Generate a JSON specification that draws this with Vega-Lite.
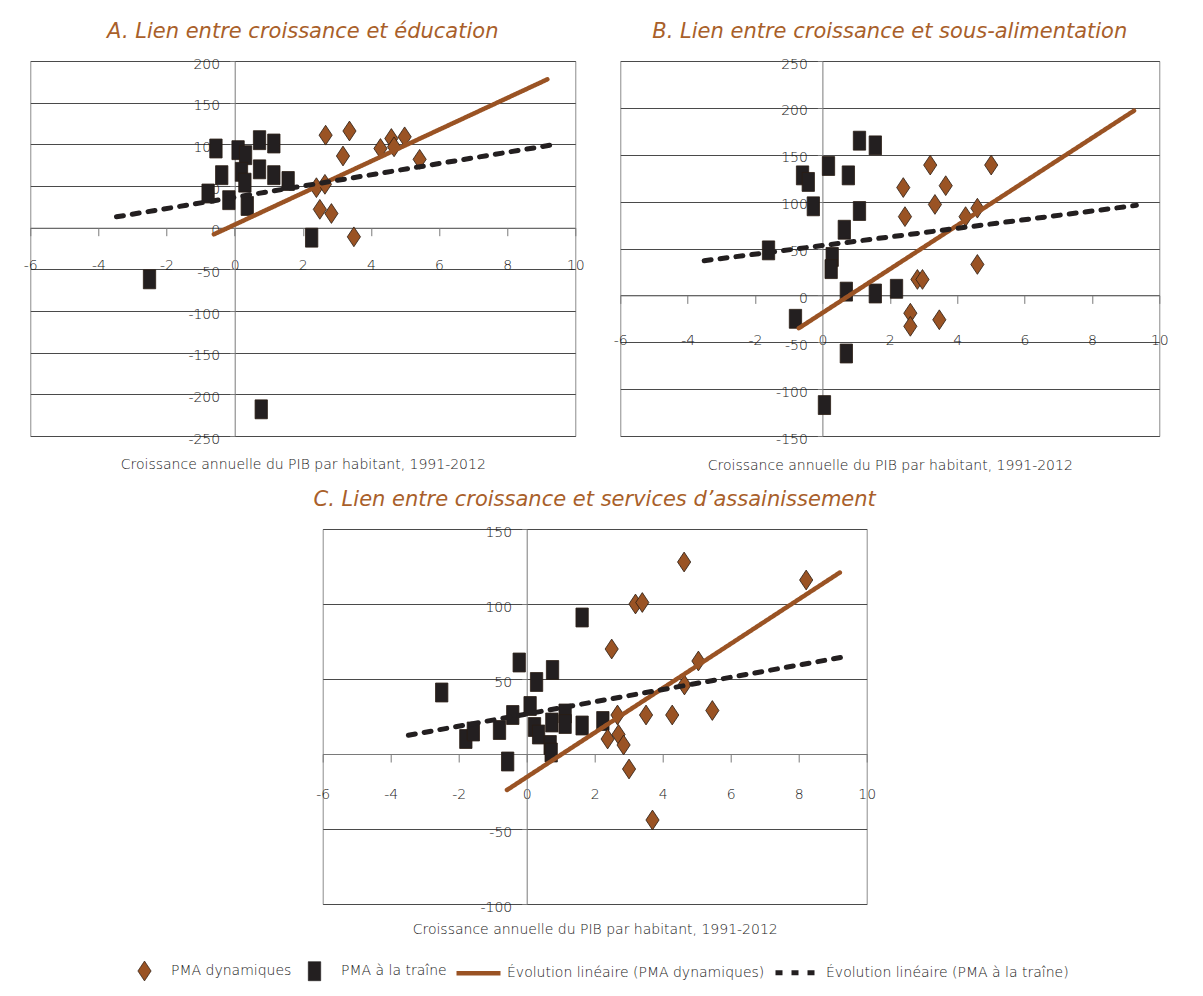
{
  "$schema": "https://vega.github.io/schema/vega-lite/v6.json",
  "background": "white",
  "padding": {"left": 22, "top": 20, "right": 5, "bottom": 5},
  "config": {
    "font": "DejaVu Sans",
    "view": {"stroke": "#8c8c8c", "strokeWidth": 1},
    "title": {"fontSize": 21, "fontStyle": "italic", "fontWeight": "normal", "color": "#a95f2a", "offset": 15, "font": "DejaVu Sans"},
    "axis": {"labelFont": "DejaVu Sans", "labelFontSize": 14, "labelFontWeight": 200, "labelColor": "#1a1a1a", "titleFont": "DejaVu Sans", "titleFontSize": 14, "titleFontWeight": 200, "titleColor": "#1a1a1a", "domainColor": "#7a7a7a", "tickColor": "#7a7a7a", "gridColor": "#4a4a4a", "gridOpacity": 1, "labelOverlap": false, "labelExpr": "datum.value + ''"},
    "legend": {"labelFont": "DejaVu Sans", "labelFontWeight": 200, "symbolOpacity": 1, "layout": {"bottom": {"anchor": "middle", "offset": 11}}}
  },
  "datasets": {
    "A": [
      {"series": "PMA à la traîne", "x": -0.55, "y": 95},
      {"series": "PMA à la traîne", "x": 0.1, "y": 93},
      {"series": "PMA à la traîne", "x": 0.32, "y": 87},
      {"series": "PMA à la traîne", "x": 0.73, "y": 105},
      {"series": "PMA à la traîne", "x": 1.15, "y": 101},
      {"series": "PMA à la traîne", "x": -0.38, "y": 63},
      {"series": "PMA à la traîne", "x": 0.2, "y": 67},
      {"series": "PMA à la traîne", "x": 0.3, "y": 54},
      {"series": "PMA à la traîne", "x": 0.73, "y": 70},
      {"series": "PMA à la traîne", "x": 1.15, "y": 63},
      {"series": "PMA à la traîne", "x": 1.57, "y": 56},
      {"series": "PMA à la traîne", "x": -0.78, "y": 41},
      {"series": "PMA à la traîne", "x": -0.17, "y": 33},
      {"series": "PMA à la traîne", "x": 0.37, "y": 26},
      {"series": "PMA à la traîne", "x": 2.26, "y": -12},
      {"series": "PMA à la traîne", "x": -2.5, "y": -62},
      {"series": "PMA à la traîne", "x": 0.78, "y": -218},
      {"series": "PMA dynamiques", "x": 2.67, "y": 111},
      {"series": "PMA dynamiques", "x": 3.37, "y": 116},
      {"series": "PMA dynamiques", "x": 3.18, "y": 86},
      {"series": "PMA dynamiques", "x": 4.28, "y": 95},
      {"series": "PMA dynamiques", "x": 4.6, "y": 107},
      {"series": "PMA dynamiques", "x": 4.68, "y": 97},
      {"series": "PMA dynamiques", "x": 4.99, "y": 109},
      {"series": "PMA dynamiques", "x": 5.43, "y": 82},
      {"series": "PMA dynamiques", "x": 2.4, "y": 48},
      {"series": "PMA dynamiques", "x": 2.65, "y": 52},
      {"series": "PMA dynamiques", "x": 2.5, "y": 22},
      {"series": "PMA dynamiques", "x": 2.84, "y": 17},
      {"series": "PMA dynamiques", "x": 3.5, "y": -11},
      {"series": "Évolution linéaire (PMA dynamiques)", "x": -0.61, "y": -8},
      {"series": "Évolution linéaire (PMA dynamiques)", "x": 9.18, "y": 178},
      {"series": "Évolution linéaire (PMA à la traîne)", "x": -3.47, "y": 13},
      {"series": "Évolution linéaire (PMA à la traîne)", "x": 9.27, "y": 99}
    ],
    "B": [
      {"series": "PMA à la traîne", "x": -1.6, "y": 48},
      {"series": "PMA à la traîne", "x": -0.59, "y": 128},
      {"series": "PMA à la traîne", "x": -0.42, "y": 121},
      {"series": "PMA à la traîne", "x": -0.27, "y": 95},
      {"series": "PMA à la traîne", "x": 0.18, "y": 138},
      {"series": "PMA à la traîne", "x": 0.77, "y": 128},
      {"series": "PMA à la traîne", "x": 1.1, "y": 165},
      {"series": "PMA à la traîne", "x": 1.57, "y": 160},
      {"series": "PMA à la traîne", "x": 1.1, "y": 90},
      {"series": "PMA à la traîne", "x": 0.65, "y": 70},
      {"series": "PMA à la traîne", "x": 0.29, "y": 41},
      {"series": "PMA à la traîne", "x": 0.26, "y": 28},
      {"series": "PMA à la traîne", "x": 0.71, "y": 4},
      {"series": "PMA à la traîne", "x": 1.57, "y": 2},
      {"series": "PMA à la traîne", "x": 2.2, "y": 7},
      {"series": "PMA à la traîne", "x": -0.8, "y": -25},
      {"series": "PMA à la traîne", "x": 0.71, "y": -62},
      {"series": "PMA à la traîne", "x": 0.06, "y": -117},
      {"series": "PMA dynamiques", "x": 2.4, "y": 115},
      {"series": "PMA dynamiques", "x": 2.45, "y": 84},
      {"series": "PMA dynamiques", "x": 3.2, "y": 139},
      {"series": "PMA dynamiques", "x": 3.34, "y": 97},
      {"series": "PMA dynamiques", "x": 3.66, "y": 117},
      {"series": "PMA dynamiques", "x": 5.01, "y": 139},
      {"series": "PMA dynamiques", "x": 4.25, "y": 84},
      {"series": "PMA dynamiques", "x": 4.6, "y": 93},
      {"series": "PMA dynamiques", "x": 4.6, "y": 33},
      {"series": "PMA dynamiques", "x": 2.82, "y": 17},
      {"series": "PMA dynamiques", "x": 2.97, "y": 17},
      {"series": "PMA dynamiques", "x": 2.61, "y": -19},
      {"series": "PMA dynamiques", "x": 2.61, "y": -33},
      {"series": "PMA dynamiques", "x": 3.47, "y": -26},
      {"series": "Évolution linéaire (PMA dynamiques)", "x": -0.7, "y": -35},
      {"series": "Évolution linéaire (PMA dynamiques)", "x": 9.25, "y": 197},
      {"series": "Évolution linéaire (PMA à la traîne)", "x": -3.51, "y": 37},
      {"series": "Évolution linéaire (PMA à la traîne)", "x": 9.32, "y": 96}
    ],
    "C": [
      {"series": "PMA à la traîne", "x": -2.5, "y": 41},
      {"series": "PMA à la traîne", "x": -1.79, "y": 10},
      {"series": "PMA à la traîne", "x": -1.57, "y": 15},
      {"series": "PMA à la traîne", "x": -0.8, "y": 16},
      {"series": "PMA à la traîne", "x": -0.41, "y": 26},
      {"series": "PMA à la traîne", "x": -0.56, "y": -5},
      {"series": "PMA à la traîne", "x": -0.22, "y": 61},
      {"series": "PMA à la traîne", "x": 0.1, "y": 32},
      {"series": "PMA à la traîne", "x": 0.29, "y": 48},
      {"series": "PMA à la traîne", "x": 0.23, "y": 18},
      {"series": "PMA à la traîne", "x": 0.35, "y": 13},
      {"series": "PMA à la traîne", "x": 0.76, "y": 56},
      {"series": "PMA à la traîne", "x": 0.74, "y": 21},
      {"series": "PMA à la traîne", "x": 0.69, "y": 6},
      {"series": "PMA à la traîne", "x": 0.72, "y": 1},
      {"series": "PMA à la traîne", "x": 1.13, "y": 27},
      {"series": "PMA à la traîne", "x": 1.13, "y": 20},
      {"series": "PMA à la traîne", "x": 1.63, "y": 19},
      {"series": "PMA à la traîne", "x": 1.63, "y": 91},
      {"series": "PMA à la traîne", "x": 2.24, "y": 22},
      {"series": "PMA dynamiques", "x": 4.63, "y": 128},
      {"series": "PMA dynamiques", "x": 8.22, "y": 116},
      {"series": "PMA dynamiques", "x": 3.2, "y": 100},
      {"series": "PMA dynamiques", "x": 3.4, "y": 101},
      {"series": "PMA dynamiques", "x": 2.5, "y": 70},
      {"series": "PMA dynamiques", "x": 5.05, "y": 62},
      {"series": "PMA dynamiques", "x": 4.64, "y": 46},
      {"series": "PMA dynamiques", "x": 2.67, "y": 26},
      {"series": "PMA dynamiques", "x": 2.38, "y": 10},
      {"series": "PMA dynamiques", "x": 2.7, "y": 13},
      {"series": "PMA dynamiques", "x": 2.85, "y": 6},
      {"series": "PMA dynamiques", "x": 3.01, "y": -10},
      {"series": "PMA dynamiques", "x": 3.51, "y": 26},
      {"series": "PMA dynamiques", "x": 4.28, "y": 26},
      {"series": "PMA dynamiques", "x": 5.46, "y": 29},
      {"series": "PMA dynamiques", "x": 3.7, "y": -44},
      {"series": "Évolution linéaire (PMA dynamiques)", "x": -0.58, "y": -24},
      {"series": "Évolution linéaire (PMA dynamiques)", "x": 9.21, "y": 121},
      {"series": "Évolution linéaire (PMA à la traîne)", "x": -3.48, "y": 12.5},
      {"series": "Évolution linéaire (PMA à la traîne)", "x": 9.28, "y": 64.5}
    ]
  },
  "center": true,
  "spacing": 14,
  "vconcat": [
    {
      "spacing": 27,
      "hconcat": [
        {
          "width": 545, "height": 375,
          "title": "A. Lien entre croissance et éducation",
          "data": {"name": "A"},
          "encoding": {
            "x": {"field": "x", "type": "quantitative", "scale": {"domain": [-6, 10], "nice": false, "zero": false},
                  "axis": {"offset": -208.3, "values": [-6, -4, -2, 0, 2, 4, 6, 8, 10], "grid": false, "tickSize": 8, "labelPadding": 23, "labelFlush": false, "title": "Croissance annuelle du PIB par habitant, 1991-2012", "titleY": 237, "titleBaseline": "middle"}},
            "y": {"field": "y", "type": "quantitative", "scale": {"domain": [-250, 200], "nice": false, "zero": false},
                  "axis": {"offset": -204.4, "values": [-250, -200, -150, -100, -50, 0, 50, 100, 150, 200], "grid": true, "tickSize": 5, "labelPadding": 10, "labelOffset": 3, "labelBaseline": "middle", "title": null}}
          },
          "layer": [
            {
              "transform": [{"filter": {"field": "series", "oneOf": ["PMA dynamiques", "PMA à la traîne"]}}],
              "mark": {"type": "point", "filled": true, "stroke": "#2a1d14", "strokeWidth": 0.8, "size": 1936, "opacity": 1},
              "encoding": {
                "fill": {"field": "series", "type": "nominal",
                         "scale": {"domain": ["PMA dynamiques", "PMA à la traîne", "Évolution linéaire (PMA dynamiques)", "Évolution linéaire (PMA à la traîne)"], "range": ["#9a5324", "#231f20", "#9a5324", "#231f20"]},
                         "legend": {"title": null, "orient": "bottom", "direction": "horizontal", "symbolSize": 1936, "labelFontSize": 14, "labelColor": "#1a1a1a", "labelOffset": 4, "columnPadding": 0, "labelLimit": 400}},
                "shape": {"field": "series", "type": "nominal",
                          "scale": {"domain": ["PMA dynamiques", "PMA à la traîne", "Évolution linéaire (PMA dynamiques)", "Évolution linéaire (PMA à la traîne)"], "range": ["M0,-0.45L0.3,0L0,0.45L-0.3,0Z", "M-0.28,-0.43L0.28,-0.43L0.28,0.43L-0.28,0.43Z", "M-1,0L1,0", "M-1,0L1,0"]}}
              }
            },
            {
              "transform": [{"filter": {"field": "series", "oneOf": ["Évolution linéaire (PMA dynamiques)", "Évolution linéaire (PMA à la traîne)"]}}],
              "mark": {"type": "line", "strokeCap": "round"},
              "encoding": {
                "stroke": {"field": "series", "type": "nominal",
                           "scale": {"domain": ["PMA dynamiques", "PMA à la traîne", "Évolution linéaire (PMA dynamiques)", "Évolution linéaire (PMA à la traîne)"], "range": ["#2a1d14", "#231f20", "#9a5324", "#231f20"]}},
                "strokeDash": {"field": "series", "type": "nominal",
                               "scale": {"domain": ["PMA dynamiques", "PMA à la traîne", "Évolution linéaire (PMA dynamiques)", "Évolution linéaire (PMA à la traîne)"], "range": [[1, 0], [1, 0], [1, 0], [7, 9]]}},
                "strokeWidth": {"field": "series", "type": "nominal",
                                "scale": {"type": "ordinal", "domain": ["PMA dynamiques", "PMA à la traîne", "Évolution linéaire (PMA dynamiques)", "Évolution linéaire (PMA à la traîne)"], "range": [0.8, 0.8, 4.5, 5]}}
              }
            }
          ]
        },
        {
          "width": 539, "height": 375,
          "title": "B. Lien entre croissance et sous-alimentation",
          "data": {"name": "B"},
          "encoding": {
            "x": {"field": "x", "type": "quantitative", "scale": {"domain": [-6, 10], "nice": false, "zero": false},
                  "axis": {"offset": -140.6, "values": [-6, -4, -2, 0, 2, 4, 6, 8, 10], "grid": false, "tickSize": 8, "labelPadding": 30, "labelFlush": false, "title": "Croissance annuelle du PIB par habitant, 1991-2012", "titleY": 170.5, "titleBaseline": "middle"}},
            "y": {"field": "y", "type": "quantitative", "scale": {"domain": [-150, 250], "nice": false, "zero": false},
                  "axis": {"offset": -202.1, "values": [-150, -100, -50, 0, 50, 100, 150, 200, 250], "grid": true, "tickSize": 5, "labelPadding": 10, "labelOffset": 3, "labelBaseline": "middle", "title": null}}
          },
          "layer": [
            {
              "transform": [{"filter": {"field": "series", "oneOf": ["PMA dynamiques", "PMA à la traîne"]}}],
              "mark": {"type": "point", "filled": true, "stroke": "#2a1d14", "strokeWidth": 0.8, "size": 1936, "opacity": 1},
              "encoding": {
                "fill": {"field": "series", "type": "nominal",
                         "scale": {"domain": ["PMA dynamiques", "PMA à la traîne", "Évolution linéaire (PMA dynamiques)", "Évolution linéaire (PMA à la traîne)"], "range": ["#9a5324", "#231f20", "#9a5324", "#231f20"]},
                         "legend": {"title": null, "orient": "bottom", "direction": "horizontal", "symbolSize": 1936, "labelFontSize": 14, "labelColor": "#1a1a1a", "labelOffset": 4, "columnPadding": 0, "labelLimit": 400}},
                "shape": {"field": "series", "type": "nominal",
                          "scale": {"domain": ["PMA dynamiques", "PMA à la traîne", "Évolution linéaire (PMA dynamiques)", "Évolution linéaire (PMA à la traîne)"], "range": ["M0,-0.45L0.3,0L0,0.45L-0.3,0Z", "M-0.28,-0.43L0.28,-0.43L0.28,0.43L-0.28,0.43Z", "M-1,0L1,0", "M-1,0L1,0"]}}
              }
            },
            {
              "transform": [{"filter": {"field": "series", "oneOf": ["Évolution linéaire (PMA dynamiques)", "Évolution linéaire (PMA à la traîne)"]}}],
              "mark": {"type": "line", "strokeCap": "round"},
              "encoding": {
                "stroke": {"field": "series", "type": "nominal",
                           "scale": {"domain": ["PMA dynamiques", "PMA à la traîne", "Évolution linéaire (PMA dynamiques)", "Évolution linéaire (PMA à la traîne)"], "range": ["#2a1d14", "#231f20", "#9a5324", "#231f20"]}},
                "strokeDash": {"field": "series", "type": "nominal",
                               "scale": {"domain": ["PMA dynamiques", "PMA à la traîne", "Évolution linéaire (PMA dynamiques)", "Évolution linéaire (PMA à la traîne)"], "range": [[1, 0], [1, 0], [1, 0], [7, 9]]}},
                "strokeWidth": {"field": "series", "type": "nominal",
                                "scale": {"type": "ordinal", "domain": ["PMA dynamiques", "PMA à la traîne", "Évolution linéaire (PMA dynamiques)", "Évolution linéaire (PMA à la traîne)"], "range": [0.8, 0.8, 4.5, 5]}}
              }
            }
          ]
        }
      ]
    },
    {
      "width": 544, "height": 375,
      "title": "C. Lien entre croissance et services d’assainissement",
      "data": {"name": "C"},
      "encoding": {
        "x": {"field": "x", "type": "quantitative", "scale": {"domain": [-6, 10], "nice": false, "zero": false},
              "axis": {"offset": -150, "values": [-6, -4, -2, 0, 2, 4, 6, 8, 10], "grid": false, "tickSize": 8, "labelPadding": 25, "labelFlush": false, "title": "Croissance annuelle du PIB par habitant, 1991-2012", "titleY": 175, "titleBaseline": "middle"}},
        "y": {"field": "y", "type": "quantitative", "scale": {"domain": [-100, 150], "nice": false, "zero": false},
              "axis": {"offset": -204, "values": [-100, -50, 0, 50, 100, 150], "grid": true, "tickSize": 5, "labelPadding": 10, "labelOffset": 3, "labelBaseline": "middle", "title": null}}
      },
      "layer": [
        {
          "transform": [{"filter": {"field": "series", "oneOf": ["PMA dynamiques", "PMA à la traîne"]}}],
          "mark": {"type": "point", "filled": true, "stroke": "#2a1d14", "strokeWidth": 0.8, "size": 1936, "opacity": 1},
          "encoding": {
            "fill": {"field": "series", "type": "nominal",
                     "scale": {"domain": ["PMA dynamiques", "PMA à la traîne", "Évolution linéaire (PMA dynamiques)", "Évolution linéaire (PMA à la traîne)"], "range": ["#9a5324", "#231f20", "#9a5324", "#231f20"]},
                     "legend": {"title": null, "orient": "bottom", "direction": "horizontal", "symbolSize": 1936, "labelFontSize": 14, "labelColor": "#1a1a1a", "labelOffset": 4, "columnPadding": 0, "labelLimit": 400}},
            "shape": {"field": "series", "type": "nominal",
                      "scale": {"domain": ["PMA dynamiques", "PMA à la traîne", "Évolution linéaire (PMA dynamiques)", "Évolution linéaire (PMA à la traîne)"], "range": ["M0,-0.45L0.3,0L0,0.45L-0.3,0Z", "M-0.28,-0.43L0.28,-0.43L0.28,0.43L-0.28,0.43Z", "M-1,0L1,0", "M-1,0L1,0"]}}
          }
        },
        {
          "transform": [{"filter": {"field": "series", "oneOf": ["Évolution linéaire (PMA dynamiques)", "Évolution linéaire (PMA à la traîne)"]}}],
          "mark": {"type": "line", "strokeCap": "round"},
          "encoding": {
            "stroke": {"field": "series", "type": "nominal",
                       "scale": {"domain": ["PMA dynamiques", "PMA à la traîne", "Évolution linéaire (PMA dynamiques)", "Évolution linéaire (PMA à la traîne)"], "range": ["#2a1d14", "#231f20", "#9a5324", "#231f20"]}},
            "strokeDash": {"field": "series", "type": "nominal",
                           "scale": {"domain": ["PMA dynamiques", "PMA à la traîne", "Évolution linéaire (PMA dynamiques)", "Évolution linéaire (PMA à la traîne)"], "range": [[1, 0], [1, 0], [1, 0], [7, 9]]}},
            "strokeWidth": {"field": "series", "type": "nominal",
                            "scale": {"type": "ordinal", "domain": ["PMA dynamiques", "PMA à la traîne", "Évolution linéaire (PMA dynamiques)", "Évolution linéaire (PMA à la traîne)"], "range": [0.8, 0.8, 4.5, 5]}}
          }
        }
      ]
    }
  ]
}
